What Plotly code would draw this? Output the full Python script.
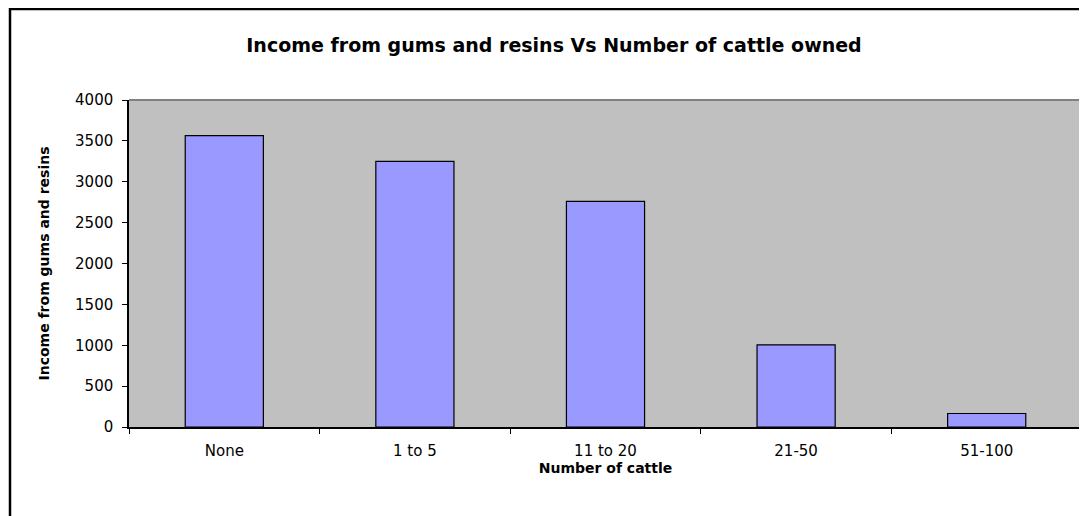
import plotly.graph_objects as go

categories = ["None", "1 to 5", "11 to 20", "21-50", "51-100"]
income = [3565, 3250, 2760, 1005, 165]
y_ticks = [0, 500, 1000, 1500, 2000, 2500, 3000, 3500, 4000]

# page is rendered with an 8px body margin; figure coords = page coords - 8
W, H = 1087, 516
ml, mr, mt, mb = 121, 13, 92, 97
pw = W - ml - mr
ph = H - mt - mb

fig = go.Figure(
    go.Bar(
        x=categories,
        y=income,
        marker=dict(color="#9999FF", line=dict(color="black", width=1.2)),
    )
)

font_family = "DejaVu Sans, Verdana, sans-serif"

fig.update_layout(
    width=W,
    height=H,
    margin=dict(l=ml, r=mr, t=mt, b=mb),
    paper_bgcolor="white",
    plot_bgcolor="#C0C0C0",
    bargap=0.59,
    showlegend=False,
    font=dict(family=font_family, size=15, color="black"),
    title=dict(
        text="<b>Income from gums and resins Vs Number of cattle owned</b>",
        x=546 / W,
        xanchor="center",
        y=1 - 37 / H,
        yanchor="middle",
        font=dict(family=font_family, size=19, color="black"),
    ),
    xaxis=dict(
        range=[-0.5, 4.5],
        showline=True,
        linecolor="black",
        linewidth=1.5,
        ticks="outside",
        tickson="boundaries",
        ticklen=5,
        tickcolor="black",
        showgrid=False,
        tickfont=dict(size=15),
        ticklabelstandoff=9,
        title=dict(text="<b>Number of cattle</b>", font=dict(size=14), standoff=3),
    ),
    yaxis=dict(
        range=[0, 4000],
        tickvals=y_ticks,
        showline=True,
        linecolor="black",
        linewidth=1.5,
        ticks="outside",
        ticklen=5,
        tickcolor="black",
        showgrid=False,
        zeroline=False,
        tickfont=dict(size=15),
        ticklabelstandoff=6,
        title=dict(text="<b>Income from gums and resins</b>", font=dict(size=14), standoff=22),
    ),
    shapes=[
        dict(type="line", xref="paper", yref="paper", x0=0, x1=1, y0=1, y1=1,
             line=dict(color="#808080", width=2)),
        dict(type="line", xref="paper", yref="paper", x0=1, x1=1, y0=0, y1=1,
             line=dict(color="#808080", width=2)),
        dict(type="rect", xref="paper", yref="paper",
             x0=(2 - ml) / pw, x1=(W + 40 - ml) / pw,
             y0=-(H + 40 - mt - ph) / ph, y1=(ph + mt - 1) / ph,
             line=dict(color="black", width=2.5), layer="above"),
    ],
)

fig.write_html("out.html")
